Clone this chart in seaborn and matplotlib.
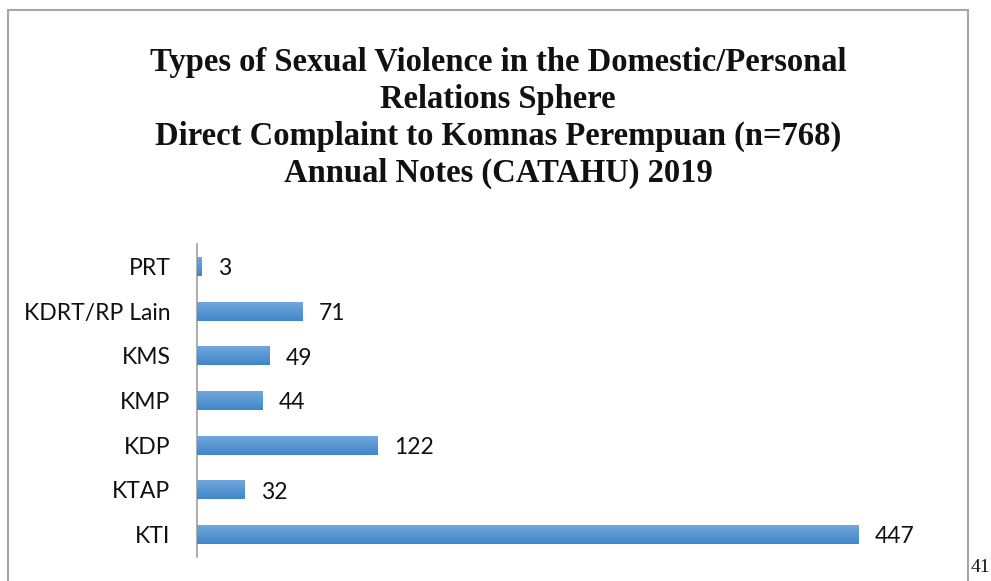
import numpy as np
import pandas as pd
import seaborn as sns
import matplotlib
matplotlib.use("Agg")
import matplotlib.pyplot as plt
from matplotlib.patches import Rectangle

# Daten aus dem Bild
categories = ["PRT", "KDRT/RP Lain", "KMS", "KMP", "KDP", "KTAP", "KTI"]
values = [3, 71, 49, 44, 122, 32, 447]

title_text = ("Types of Sexual Violence in the Domestic/Personal\n"
              "Relations Sphere\n"
              "Direct Complaint to Komnas Perempuan (n=768)\n"
              "Annual Notes (CATAHU) 2019")

df = pd.DataFrame({"category": categories, "count": values})

sns.set_theme(style="white")
plt.rcParams["font.family"] = ["Lato", "DejaVu Sans"]

fig = plt.figure(figsize=(9.91, 5.81), dpi=100)
ax = fig.add_axes([197 / 991, 24 / 581, 740 / 991, 313 / 581])

sns.barplot(data=df, x="count", y="category", color="#5B9BD5",
            width=0.425, orient="h", ax=ax, saturation=1)

# Farbverlauf in den Balken (oben hell, unten dunkler)
grad = np.linspace(0, 1, 64).reshape(-1, 1)
cmap = matplotlib.colors.LinearSegmentedColormap.from_list(
    "bar", ["#74A9DD", "#4086C9"])
for p in ax.patches:
    x0, y0 = p.get_x(), p.get_y()
    w, h = p.get_width(), p.get_height()
    im = ax.imshow(grad, cmap=cmap, aspect="auto",
                   extent=[x0, x0 + w, y0 + h, y0], zorder=3)
    im.set_clip_path(p)

ax.set_xlim(0, 500)
ax.set_ylim(6.5, -0.5)

for i, v in enumerate(values):
    ax.text(v + 11, i + 0.05, str(v), va="center", ha="left",
            fontsize=16.5, color="#111111")

ax.set_xlabel("")
ax.set_ylabel("")
ax.set_xticks([])
ax.tick_params(axis="y", length=0, pad=19, labelsize=16.5, labelcolor="#111111")

sns.despine(ax=ax, top=True, right=True, bottom=True, left=False)
ax.spines["left"].set_color("#a0a0a0")
ax.spines["left"].set_linewidth(1.2)

# Titel
fig.text(498 / 991, 1 - 47 / 581, title_text, ha="center", va="top",
         fontsize=23.5, fontweight="bold", family=["Liberation Serif"],
         linespacing=1.24, color="#111111")

# Rahmen und Seitenzahl
fig.patches.append(Rectangle((8 / 991, -0.05), 960 / 991, 1.05 - 10 / 581,
                             transform=fig.transFigure, fill=False,
                             edgecolor="#a6a6a6", linewidth=1.5))
fig.text(971 / 991, 1 - 568 / 581, "41", ha="left", va="center",
         fontsize=14, family=["Liberation Serif"], color="#111111")

plt.savefig("out.png", dpi=100)
